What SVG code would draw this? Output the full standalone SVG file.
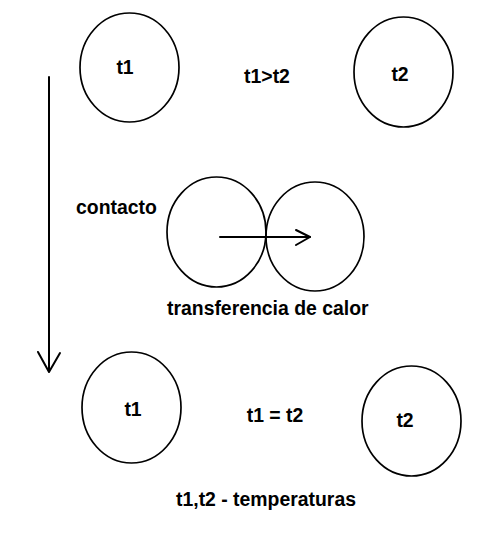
<svg xmlns="http://www.w3.org/2000/svg" width="482" height="535" viewBox="0 0 482 535">
<style>
  .body { fill: none; stroke: #000; stroke-width: 1.7; }
  .lbl { font-family: "Liberation Sans", Arial, sans-serif; font-weight: bold; font-size: 19.4px; fill: #000; }
  .conn { fill: none; stroke: #000; stroke-width: 2; stroke-linecap: round; stroke-linejoin: round; }
</style>
<rect width="482" height="535" fill="#fff"/>
<g id="top-t1">
  <ellipse class="body" cx="129.5" cy="67.5" rx="49.5" ry="54.5"/>
  <text class="lbl" x="125" y="74" text-anchor="middle">t1</text>
</g>
<g id="top-label">
  <text class="lbl" x="267" y="83" text-anchor="middle">t1&gt;t2</text>
</g>
<g id="top-t2">
  <ellipse class="body" cx="403.5" cy="72" rx="49.5" ry="55"/>
  <text class="lbl" x="400" y="81" text-anchor="middle">t2</text>
</g>
<g id="contact-label">
  <text class="lbl" x="76" y="214">contacto</text>
</g>
<g id="contact-left">
  <ellipse class="body" cx="216.5" cy="232" rx="49.5" ry="55"/>
</g>
<g id="contact-right">
  <ellipse class="body" cx="315" cy="236.5" rx="49" ry="54.5"/>
</g>
<g id="transfer-label">
  <text class="lbl" x="167" y="315">transferencia de calor</text>
</g>
<g id="bottom-t1">
  <ellipse class="body" cx="131.5" cy="407.5" rx="49.5" ry="55.5"/>
  <text class="lbl" x="133" y="416" text-anchor="middle">t1</text>
</g>
<g id="bottom-label">
  <text class="lbl" x="275" y="422" text-anchor="middle">t1 = t2</text>
</g>
<g id="bottom-t2">
  <ellipse class="body" cx="411.5" cy="421" rx="49.5" ry="55"/>
  <text class="lbl" x="405" y="427" text-anchor="middle">t2</text>
</g>
<g id="legend">
  <text class="lbl" x="176" y="506">t1,t2 - temperaturas</text>
</g>
<g id="connectors">
  <line class="conn" x1="49" y1="77" x2="49" y2="371"/>
  <polyline class="conn" points="38,352 49,372 60,353"/>
  <line class="conn" x1="220" y1="237" x2="310" y2="237"/>
  <polyline class="conn" points="296,230 310,237 296,245"/>
</g>
</svg>
